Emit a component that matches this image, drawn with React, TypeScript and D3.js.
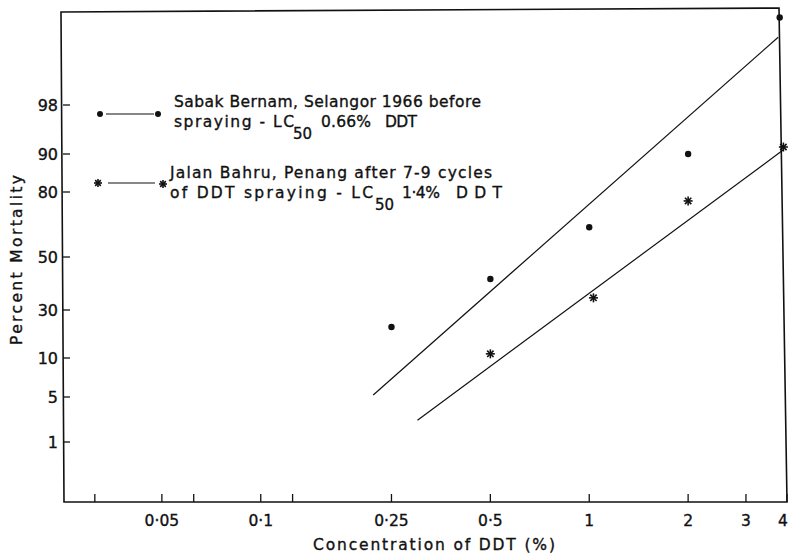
import React from "react";
import * as d3 from "d3";

// ---- data ----
const xTickValues = [0.03125, 0.05, 0.0625, 0.1, 0.125, 0.25, 0.5, 1, 2, 3, 4];
const xTickLabels = ["", "0·05", "", "0·1", "", "0·25", "0·5", "1", "2", "3", "4"];
const yTickValues = [1, 5, 10, 30, 50, 80, 90, 98];
const yTickLabels = ["1", "5", "10", "30", "50", "80", "90", "98"];

// Sabak Bernam (dots)
const sabakConc = [0.25, 0.5, 1, 2, 3.8];
const sabakMort = [21.4, 41.4, 65, 90, 99.97];
// Jalan Bahru (stars)
const jalanConc = [0.5, 1.03, 2, 3.9];
const jalanMort = [11.2, 34.3, 76.6, 91.8];

// fitted regression lines (end points)
const sabakFitConc = [0.22, 3.76];
const sabakFitMort = [5.2, 99.91];
const jalanFitConc = [0.3, 3.9];
const jalanFitMort = [2.3, 91.1];

// ---- probit ----
function probit(pct: number): number {
  const p = pct / 100;
  const a = [-3.969683028665376e1, 2.209460984245205e2, -2.759285104469687e2, 1.38357751867269e2, -3.066479806614716e1, 2.506628277459239];
  const b = [-5.447609879822406e1, 1.615858368580409e2, -1.556989798598866e2, 6.680131188771972e1, -1.328068155288572e1];
  const c = [-7.784894002430293e-3, -3.223964580411365e-1, -2.400758277161838, -2.549671348000501, 4.374664141464968, 2.938163982698783];
  const d = [7.784695709041462e-3, 3.224671290700398e-1, 2.445134137142996, 3.754408661907416];
  const plow = 0.02425;
  if (p < plow) {
    const q = Math.sqrt(-2 * Math.log(p));
    return (((((c[0] * q + c[1]) * q + c[2]) * q + c[3]) * q + c[4]) * q + c[5]) / ((((d[0] * q + d[1]) * q + d[2]) * q + d[3]) * q + 1);
  } else if (p <= 1 - plow) {
    const q = p - 0.5;
    const r = q * q;
    return ((((((a[0] * r + a[1]) * r + a[2]) * r + a[3]) * r + a[4]) * r + a[5]) * q) / (((((b[0] * r + b[1]) * r + b[2]) * r + b[3]) * r + b[4]) * r + 1);
  } else {
    const q = Math.sqrt(-2 * Math.log(1 - p));
    return -(((((c[0] * q + c[1]) * q + c[2]) * q + c[3]) * q + c[4]) * q + c[5]) / ((((d[0] * q + d[1]) * q + d[2]) * q + d[3]) * q + 1);
  }
}

const FONT = "'DejaVu Sans', sans-serif";
const INK = "#111";

function Star({ x, y, r = 4.5 }: { x: number; y: number; r?: number }) {
  const angles = [0, 45, 90, 135];
  return (
    <g>
      {angles.map((a) => {
        const rad = (a * Math.PI) / 180;
        const dx = Math.cos(rad) * r;
        const dy = Math.sin(rad) * r;
        return <line key={a} x1={x - dx} y1={y - dy} x2={x + dx} y2={y + dy} stroke={INK} strokeWidth={1.6} />;
      })}
    </g>
  );
}

export default function App() {
  const W = 789;
  const H = 555;
  const x = d3.scaleLog().domain([0.025, 4]).range([63, 787]);
  const yTickPx = [442, 397, 358, 310, 257, 192, 154, 105];
  const y = d3.scaleLinear().domain(yTickValues.map(probit)).range(yTickPx);
  const py = (m: number) => y(probit(m));

  const line = d3
    .line<[number, number]>()
    .x((d) => x(d[0]))
    .y((d) => py(d[1]));

  const fit1 = sabakFitConc.map((c, i) => [c, sabakFitMort[i]] as [number, number]);
  const fit2 = jalanFitConc.map((c, i) => [c, jalanFitMort[i]] as [number, number]);

  const axisBottom = 502;
  const axisLeft = 63;
  const textProps = { fill: INK, stroke: INK, strokeWidth: 0.35 };

  return (
    <svg width={W} height={H} style={{ position: "absolute", left: 0, top: 0, background: "#fff" }} fontFamily={FONT}>
      <rect width={W} height={H} fill="#fff" />
      {/* frame */}
      <path d={`M61,12 L779,8 L787,${axisBottom} L64,${axisBottom} Z`} fill="none" stroke={INK} strokeWidth={1.6} />

      {/* x ticks */}
      {xTickValues.map((v, i) => (
        <g key={"xt" + i}>
          <line x1={x(v)} x2={x(v)} y1={axisBottom} y2={axisBottom - 8} stroke={INK} strokeWidth={1.3} />
          {xTickLabels[i] && (
            <text x={Math.min(x(v), 783)} y={526} textAnchor="middle" fontSize={15.5} {...textProps}>
              {xTickLabels[i]}
            </text>
          )}
        </g>
      ))}

      {/* y ticks */}
      {yTickValues.map((v, i) => (
        <g key={"yt" + i}>
          <line x1={axisLeft} x2={axisLeft + 7} y1={py(v)} y2={py(v)} stroke={INK} strokeWidth={1.3} />
          <text x={axisLeft - 5} y={py(v) + 6} textAnchor="end" fontSize={16} {...textProps}>
            {yTickLabels[i]}
          </text>
        </g>
      ))}

      {/* axis titles */}
      <text x={434} y={550} textAnchor="middle" fontSize={15.5} textLength={242} lengthAdjust="spacing" {...textProps}>
        Concentration of DDT (%)
      </text>
      <text transform={`translate(22,260) rotate(-90)`} textAnchor="middle" fontSize={15.5} textLength={170} lengthAdjust="spacing" {...textProps}>
        Percent Mortality
      </text>

      {/* fitted lines */}
      <path d={line(fit1) || ""} fill="none" stroke={INK} strokeWidth={1.2} />
      <path d={line(fit2) || ""} fill="none" stroke={INK} strokeWidth={1.2} />

      {/* points */}
      {sabakConc.map((c, i) => (
        <circle key={"s" + i} cx={x(c)} cy={py(sabakMort[i])} r={3.2} fill={INK} />
      ))}
      {jalanConc.map((c, i) => (
        <Star key={"j" + i} x={x(c)} y={py(jalanMort[i])} />
      ))}

      {/* legend */}
      <g>
        <circle cx={100} cy={114} r={3} fill={INK} />
        <line x1={106} x2={154} y1={114} y2={114} stroke={INK} strokeWidth={1.2} />
        <circle cx={158} cy={114} r={3} fill={INK} />
        <text x={174} y={107} fontSize={15.5} textLength={307} lengthAdjust="spacing" {...textProps}>
          Sabak Bernam, Selangor 1966 before
        </text>
        <text x={174} y={127} fontSize={15.5} textLength={120} lengthAdjust="spacing" {...textProps}>
          spraying - LC
        </text>
        <text x={293} y={139} fontSize={15} {...textProps}>50</text>
        <text x={321} y={127} fontSize={15.5} textLength={50} lengthAdjust="spacing" {...textProps}>
          0.66%
        </text>
        <text x={385} y={127} fontSize={15.5} textLength={32} lengthAdjust="spacing" {...textProps}>
          DDT
        </text>

        <Star x={98} y={183} r={4} />
        <line x1={108} x2={155} y1={183} y2={183} stroke={INK} strokeWidth={1.2} />
        <Star x={163} y={184} r={4} />
        <text x={170} y={178} fontSize={15.5} textLength={322} lengthAdjust="spacing" {...textProps}>
          Jalan Bahru, Penang after 7-9 cycles
        </text>
        <text x={170} y={198} fontSize={15.5} textLength={203} lengthAdjust="spacing" {...textProps}>
          of DDT spraying - LC
        </text>
        <text x={375} y={210} fontSize={15} {...textProps}>50</text>
        <text x={402} y={198} fontSize={15.5} textLength={38} lengthAdjust="spacing" {...textProps}>
          1·4%
        </text>
        <text x={456} y={198} fontSize={15.5} textLength={46} lengthAdjust="spacing" {...textProps}>
          DDT
        </text>
      </g>
    </svg>
  );
}
